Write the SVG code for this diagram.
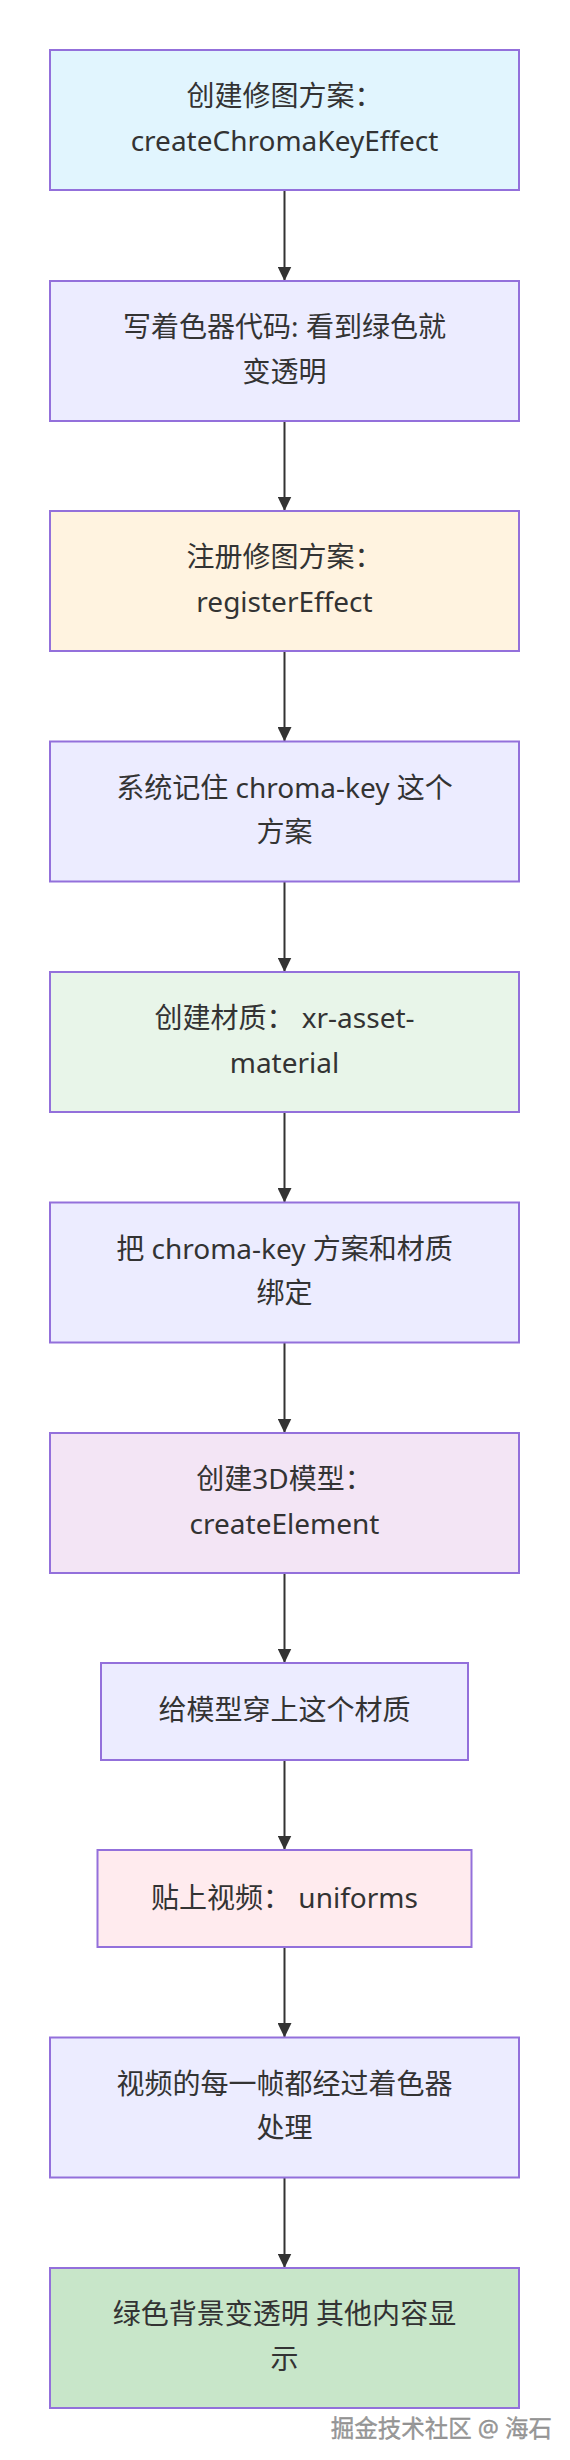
<svg xmlns="http://www.w3.org/2000/svg" width="570" height="2460" viewBox="0 0 570 2460">
<defs>
<style>
.box{stroke:#9370DB;stroke-width:2}
.t{font-family:"Noto Sans","Noto Sans CJK SC",sans-serif;font-size:28px;fill:#333;text-anchor:middle}
.edge{stroke:#333;stroke-width:2;fill:none}
.wm{font-family:"Noto Sans","Noto Sans CJK SC",sans-serif;font-size:23.5px;fill:#9a9a9a;stroke:#808080;stroke-width:0.3;text-anchor:end}
</style>
<marker id="arr" markerUnits="userSpaceOnUse" markerWidth="15" markerHeight="14" refX="14.5" refY="7" orient="auto">
<path d="M0,0 L14.5,7 L0,14 z" fill="#333"/>
</marker>
</defs>
<rect width="570" height="2460" fill="#fff"/>
<g id="edges">
<line class="edge" x1="284.5" y1="190" x2="284.5" y2="281" marker-end="url(#arr)"/>
<line class="edge" x1="284.5" y1="421" x2="284.5" y2="511" marker-end="url(#arr)"/>
<line class="edge" x1="284.5" y1="651" x2="284.5" y2="741.5" marker-end="url(#arr)"/>
<line class="edge" x1="284.5" y1="881.5" x2="284.5" y2="972" marker-end="url(#arr)"/>
<line class="edge" x1="284.5" y1="1112" x2="284.5" y2="1202.5" marker-end="url(#arr)"/>
<line class="edge" x1="284.5" y1="1342.5" x2="284.5" y2="1433" marker-end="url(#arr)"/>
<line class="edge" x1="284.5" y1="1573" x2="284.5" y2="1663" marker-end="url(#arr)"/>
<line class="edge" x1="284.5" y1="1760" x2="284.5" y2="1850" marker-end="url(#arr)"/>
<line class="edge" x1="284.5" y1="1947" x2="284.5" y2="2037.5" marker-end="url(#arr)"/>
<line class="edge" x1="284.5" y1="2177.5" x2="284.5" y2="2268" marker-end="url(#arr)"/>
</g>
<g id="n1"><rect class="box" x="50" y="50" width="469" height="140" fill="#E1F5FE"/>
<text class="t" x="284.5" y="106">创建修图方案：</text><text class="t" x="284.5" y="150.5">createChromaKeyEffect</text></g>
<g id="n2"><rect class="box" x="50" y="281" width="469" height="140" fill="#ECECFF"/>
<text class="t" x="284.5" y="337">写着色器代码: 看到绿色就</text><text class="t" x="284.5" y="381.5">变透明</text></g>
<g id="n3"><rect class="box" x="50" y="511" width="469" height="140" fill="#FFF3E0"/>
<text class="t" x="284.5" y="567">注册修图方案：</text><text class="t" x="284.5" y="611.5">registerEffect</text></g>
<g id="n4"><rect class="box" x="50" y="741.5" width="469" height="140" fill="#ECECFF"/>
<text class="t" x="284.5" y="797.5">系统记住 chroma-key 这个</text><text class="t" x="284.5" y="842">方案</text></g>
<g id="n5"><rect class="box" x="50" y="972" width="469" height="140" fill="#E8F5E9"/>
<text class="t" x="284.5" y="1028">创建材质： xr-asset-</text><text class="t" x="284.5" y="1072.5">material</text></g>
<g id="n6"><rect class="box" x="50" y="1202.5" width="469" height="140" fill="#ECECFF"/>
<text class="t" x="284.5" y="1258.5">把 chroma-key 方案和材质</text><text class="t" x="284.5" y="1303">绑定</text></g>
<g id="n7"><rect class="box" x="50" y="1433" width="469" height="140" fill="#F3E5F5"/>
<text class="t" x="284.5" y="1489">创建3D模型：</text><text class="t" x="284.5" y="1533.5">createElement</text></g>
<g id="n8"><rect class="box" x="101" y="1663" width="367" height="97" fill="#ECECFF"/>
<text class="t" x="284.5" y="1720">给模型穿上这个材质</text></g>
<g id="n9"><rect class="box" x="97.5" y="1850" width="374" height="97" fill="#FFEBEE"/>
<text class="t" x="284.5" y="1907.5">贴上视频： uniforms</text></g>
<g id="n10"><rect class="box" x="50" y="2037.5" width="469" height="140" fill="#ECECFF"/>
<text class="t" x="284.5" y="2093.5">视频的每一帧都经过着色器</text><text class="t" x="284.5" y="2138">处理</text></g>
<g id="n11"><rect class="box" x="50" y="2268" width="469" height="140" fill="#C8E6C9"/>
<text class="t" x="284.5" y="2324">绿色背景变透明 其他内容显</text><text class="t" x="284.5" y="2368.5">示</text></g>
<text class="wm" x="552" y="2437">掘金技术社区 @ 海石</text>
</svg>
